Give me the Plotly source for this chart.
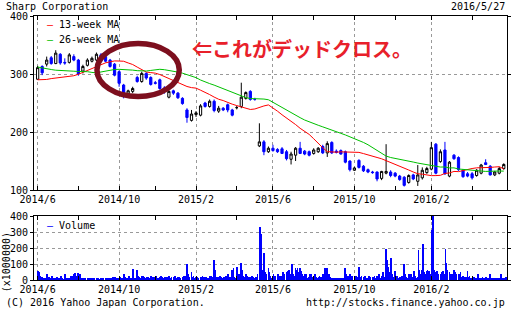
import plotly.graph_objects as go
import pandas as pd

# ---- weekly OHLC (weeks starting Monday 2014-06-02) ----
week_open = [291,313,317,328,318,334,320,320,330,324, 305,315,322,324,333,330,324,317,304,281,
             265,270,294,287,301,294,285,290,276,260, 271,267,258,238,220,230,229,250,244,253,
             236,241,247,238,242,244,258,270,256,176, 183,166,172,170,171,166,153,160,172,167,
             166,163,166,175,164,182,167,168,166,150, 134,151,141,135,131,131,120,129,131,129,
             124,122,113,126,115,121,130,136,179,149, 169,124,160,156,134,128,128,125,129,147,
             141,126,129,137]
week_high = [314,315,330,331,341,336,327,336,334,326, 316,327,330,337,336,332,326,319,306,283,
             273,278,297,304,303,296,288,292,279,272, 273,269,260,241,238,236,248,252,256,256,
             245,243,249,240,245,285,270,272,259,215, 186,175,178,172,174,169,166,174,183,169,
             168,172,174,178,184,184,170,170,168,151, 140,153,143,137,133,132,133,179,134,131,
             126,124,127,128,143,139,140,183,181,170, 183,150,162,158,136,131,131,136,145,153,
             143,133,140,146]
week_low = [290,298,313,316,317,316,316,318,322,297, 301,313,320,322,320,320,311,296,278,258,
            262,267,285,285,290,280,282,273,266,258, 264,257,247,216,218,226,227,242,242,234,
            233,236,234,227,239,241,256,254,254,174, 160,164,166,164,162,151,144,150,162,160,
            158,161,164,162,157,162,163,161,146,132, 133,137,131,129,128,115,117,127,122,122,
            116,106,111,117,107,118,128,134,127,147, 126,122,152,133,121,122,118,123,127,143,
            125,124,127,135]
week_close = [311,302,324,318,336,319,319,333,324,300, 313,324,327,334,322,322,313,298,284,261,
              271,275,287,301,293,282,284,275,270,270, 267,259,249,225,231,233,245,244,253,237,
              241,238,238,229,242,260,268,256,256,183, 166,172,168,166,163,154,162,172,163,162,
              160,169,172,164,180,164,165,162,148,135, 138,139,133,131,130,119,132,132,125,124,
              118,108,125,119,126,134,137,173,129,166, 128,148,154,135,123,124,121,134,143,144,
              126,131,137,144]
# estimated weekly closes before the visible window (feed the moving averages)
prior_close = [330,335,340,332,328,338,342,335,330,332,336,332,332,
               285,290,292,290, 315,315,310,305, 286,290,270,262,260,283,300]
MA_LAG_WEEKS = 3   # the source chart draws its averages about three weeks late

# ---- daily volume (x1,000,000), 5 trading days per week ----
daily_volume = [
    55,15,48,12,22, 18,10,15,8,12, 38,12,15,18,6, 12,22,10,15,8,
    15,12,20,10,14, 8,22,12,10,6, 35,9,12,15,12, 12,15,20,28,25,
    40,35,42,22,15, 42,30,35,18,10, 12,10,8,12,6, 10,14,8,6,12,
    15,8,12,10,6, 8,12,15,10,6, 12,6,10,14,8, 12,8,15,6,10,
    14,10,8,12,16, 10,18,12,8,12, 12,10,20,15,12, 35,15,12,20,10,
    14,22,18,12,15, 70,20,15,12,10, 60,22,14,20,15, 28,18,22,12,20,
    15,20,12,18,14, 22,12,15,20,12, 18,14,22,15,12, 20,15,28,12,18,
    15,20,14,12,16, 22,18,12,15,20, 14,20,15,22,12, 18,12,20,15,14,
    20,15,22,18,28, 100,40,22,20,15, 50,20,15,22,12, 18,14,20,15,12,
    15,20,12,22,18, 20,14,18,12,15, 22,18,28,15,20, 125,60,22,20,18,
    20,15,22,14,18, 15,20,12,18,22, 20,40,15,12,20, 60,30,75,20,15,
    80,22,20,40,15, 107,60,40,28,20, 40,22,28,18,15, 20,15,22,12,18,
    15,12,20,14,40, 120,333,250,287,65, 170,65,50,40,22, 78,50,20,22,15,
    20,35,15,22,18, 15,40,20,12,22, 22,35,50,20,40, 50,22,55,40,60,
    35,97,55,40,22, 78,40,60,78,50, 78,35,55,40,22, 40,20,35,22,15,
    20,40,22,35,18, 22,18,35,20,15, 12,20,22,15,20, 35,22,20,72,40,
    72,35,22,40,20, 15,12,10,12,8, 10,8,12,12,10, 12,10,8,15,12,
    76,40,20,15,22, 40,20,15,22,12, 15,20,12,22,18, 82,35,20,15,22,
    20,15,22,18,12, 15,20,22,12,18, 20,14,18,22,15, 22,18,20,35,15,
    20,22,50,40,18, 192,128,60,80,50, 138,50,35,22,18, 55,20,15,22,12,
    15,20,12,18,22, 100,35,22,20,15, 22,40,20,35,18, 20,55,35,22,15,
    20,186,65,35,22, 60,223,100,50,40, 55,60,40,58,50, 35,315,420,110,60,
    50,40,55,35,22, 40,35,50,22,55, 40,196,107,60,35, 50,22,40,20,35,
    60,22,50,20,40, 22,35,18,50,20, 22,15,20,12,18, 55,20,15,22,12,
    15,20,12,18,14, 12,15,40,12,14, 15,12,20,12,10, 12,18,10,14,12,
    40,14,12,15,10, 10,12,15,12,14, 12,15,10,40,12, 10,14,12,15,20,
]

major_tick_dates = ["2014-06-02", "2014-10-06", "2015-02-02", "2015-06-01", "2015-10-05", "2016-02-01"]
major_tick_labels = ["2014/6", "2014/10", "2015/2", "2015/6", "2015/10", "2016/2"]
minor_tick_dates = ["2014-08-04", "2014-12-01", "2015-04-06", "2015-08-03", "2015-12-07", "2016-04-04"]

# ---- derived series ----
weeks = pd.date_range("2014-06-02", periods=len(week_close), freq="7D")
days = pd.bdate_range("2014-06-02", "2016-05-27")
all_close = pd.Series(prior_close + week_close, dtype=float)
n0 = len(prior_close)
ma13 = all_close.rolling(13).mean().shift(MA_LAG_WEEKS).iloc[n0:].values
ma26 = all_close.rolling(26).mean().shift(MA_LAG_WEEKS).iloc[n0:].values

FONT = "DejaVu Sans Mono"
GRID = "#999999"

fig = go.Figure()
fig.add_trace(go.Scatter(x=weeks, y=ma13, mode="lines", line=dict(color="#ff0000", width=1),
                         xaxis="x", yaxis="y", hoverinfo="skip"))
fig.add_trace(go.Scatter(x=weeks, y=ma26, mode="lines", line=dict(color="#00c000", width=1),
                         xaxis="x", yaxis="y", hoverinfo="skip"))
fig.add_trace(go.Candlestick(
    x=weeks, open=week_open, high=week_high, low=week_low, close=week_close,
    increasing=dict(fillcolor="#ffffff", line=dict(color="#000000", width=1)),
    decreasing=dict(fillcolor="#0000ff", line=dict(color="#0000ff", width=1)),
    whiskerwidth=0, xaxis="x", yaxis="y"))
fig.add_trace(go.Bar(x=days, y=daily_volume, marker=dict(color="#0000ff", line=dict(width=0)),
                     width=1.2 * 86400000, xaxis="x2", yaxis="y2"))

xcommon = dict(type="date", range=["2014-05-27 09:00", "2016-05-28 00:00"],
               tickmode="array", tickvals=major_tick_dates, ticktext=major_tick_labels,
               showgrid=True, gridcolor=GRID, griddash="dot", gridwidth=1,
               showline=True, linecolor="#000000", linewidth=1, mirror="allticks",
               ticks="inside", ticklen=4, tickcolor="#000000",
               minor=dict(tickmode="array", tickvals=minor_tick_dates, ticks="inside",
                          ticklen=4, tickcolor="#000000", showgrid=False),
               tickfont=dict(family=FONT, size=10, color="#000000"), zeroline=False)
ycommon = dict(showgrid=True, gridcolor=GRID, griddash="dot", gridwidth=1,
               showline=True, linecolor="#000000", linewidth=1, mirror="allticks",
               ticks="outside", ticklen=3, tickcolor="#000000", zeroline=False,
               tickfont=dict(family=FONT, size=10, color="#000000"))

W, H = 513, 310
L, R, T, B = 34, 2, 16, 30
ph = H - T - B

def px_x(px):
    return (px - L) / (W - L - R)

def px_y(py):
    return (H - B - py) / ph

fig.update_layout(
    width=W, height=H, margin=dict(l=L, r=R, t=T, b=B),
    paper_bgcolor="#ffffff", plot_bgcolor="#ffffff", showlegend=False,
    font=dict(family=FONT, size=10, color="#000000"),
    xaxis=dict(**xcommon, anchor="y", rangeslider=dict(visible=False)),
    xaxis2=dict(**xcommon, anchor="y2", matches="x"),
    yaxis=dict(**ycommon, domain=[px_y(190), 1], range=[100, 400],
               tickvals=[100, 200, 300, 400]),
    yaxis2=dict(**ycommon, domain=[0, px_y(216)], range=[0, 400],
                tickvals=[0, 100, 200, 300, 400]),
    bargap=0,
)

def note(text, x, y, xanchor="left", size=10, color="#000000", family=FONT, angle=0):
    fig.add_annotation(text=text, x=x, y=y, xref="paper", yref="paper", xanchor=xanchor,
                       yanchor="middle", showarrow=False, textangle=angle,
                       font=dict(family=family, size=size, color=color))

note("Sharp Corporation", px_x(4), px_y(6))
note("2016/5/27", 1.0, px_y(6), xanchor="right")
note("(C) 2016 Yahoo Japan Corporation.", px_x(4), px_y(302))
note("http://stocks.finance.yahoo.co.jp", 1.0, px_y(302), xanchor="right")
note("<span style='color:#ff0000'>—</span> 13-week MA", px_x(45), px_y(25))
note("<span style='color:#00c000'>—</span> 26-week MA", px_x(45), px_y(39))
note("<span style='color:#0000ff'>—</span> Volume", px_x(45), px_y(225))
note("(x1000000)", px_x(6), px_y(262), xanchor="center", angle=-90)
note("<b>⇐これがデッドクロス。</b>", px_x(191), px_y(48), size=20, color="#e8202a",
     family="Noto Sans CJK JP")

fig.add_shape(type="circle", xref="paper", yref="paper",
              x0=px_x(97.5), x1=px_x(180.5), y0=px_y(96.5), y1=px_y(43.5),
              line=dict(color="#7d0f1e", width=5.5), layer="above")

fig.write_html("out.html")
